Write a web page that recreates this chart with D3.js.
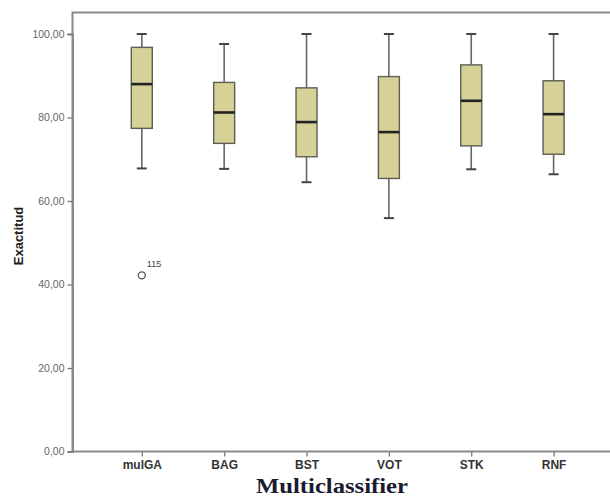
<!DOCTYPE html>
<html><head><meta charset="utf-8">
<script src="https://cdn.jsdelivr.net/npm/d3@7"></script>
<style>body{margin:0;background:#fff}svg{display:block}</style>
</head><body>
<svg id="c" width="610" height="498"></svg>
<script>
const categories = ["mulGA","BAG","BST","VOT","STK","RNF"];
const whiskerLow  = [67.8, 67.7, 64.5, 55.9, 67.6, 66.4];
const q1          = [77.4, 73.8, 70.6, 65.4, 73.2, 71.2];
const median      = [88.0, 81.2, 78.9, 76.5, 84.0, 80.8];
const q3          = [96.8, 88.4, 87.1, 89.8, 92.6, 88.8];
const whiskerHigh = [100, 97.6, 100, 100, 100, 100];
const outliers = [{cat:"mulGA", value:42.2, label:"115"}];
const yTicks = [0,20,40,60,80,100];

const svg = d3.select("#c");
const mLeft=72.5, mTop=12.5, mBottom=451.5, mRight=612;
const y = d3.scaleLinear().domain([0,100]).range([mBottom, 34]);
const x = d3.scalePoint().domain(categories).range([141.8, 553.6]);
const fmt = d => d.toFixed(2).replace(".", ",");

// frame
svg.append("path").attr("d",`M${mLeft},${mBottom}V${mTop}H${mRight}`)
  .attr("fill","none").attr("stroke","#8a8a8a").attr("stroke-width",2);

// y axis
const ya = svg.append("g").attr("transform",`translate(${mLeft},0)`)
  .call(d3.axisLeft(y).tickValues(yTicks).tickFormat(fmt).tickSize(5).tickPadding(3));
ya.select(".domain").attr("stroke","#8a8a8a").attr("stroke-width",2);
ya.selectAll(".tick line").attr("stroke","#777").attr("stroke-width",1.3);
ya.selectAll(".tick text").attr("font-family","Liberation Sans, Arial, sans-serif")
  .attr("font-size",10.5).attr("fill","#666");

// x axis
const xa = svg.append("g").attr("transform",`translate(0,${mBottom})`)
  .call(d3.axisBottom(x).tickSize(5).tickPadding(3.5));
xa.select(".domain").remove();
svg.append("line").attr("x1",mLeft).attr("x2",mRight).attr("y1",mBottom).attr("y2",mBottom)
  .attr("stroke","#8a8a8a").attr("stroke-width",2);
xa.selectAll(".tick line").attr("stroke","#777").attr("stroke-width",1.3);
xa.selectAll(".tick text").attr("font-family","Liberation Sans, Arial, sans-serif")
  .attr("font-weight","bold").attr("font-size",12).attr("fill","#333");

// boxes
const bw = 21, cw = 10;
const g = svg.append("g");
categories.forEach((c,i)=>{
  const cx = x(c);
  g.append("line").attr("x1",cx).attr("x2",cx).attr("y1",y(whiskerHigh[i])).attr("y2",y(q3[i]))
    .attr("stroke","#666").attr("stroke-width",1.6);
  g.append("line").attr("x1",cx).attr("x2",cx).attr("y1",y(q1[i])).attr("y2",y(whiskerLow[i]))
    .attr("stroke","#666").attr("stroke-width",1.6);
  [whiskerHigh[i], whiskerLow[i]].forEach(v=>{
    g.append("line").attr("x1",cx-cw/2).attr("x2",cx+cw/2).attr("y1",y(v)).attr("y2",y(v))
      .attr("stroke","#444").attr("stroke-width",2);
  });
  g.append("rect").attr("x",cx-bw/2).attr("y",y(q3[i])).attr("width",bw)
    .attr("height",y(q1[i])-y(q3[i])).attr("fill","#d5d197").attr("stroke","#5e5e55").attr("stroke-width",1.4);
  g.append("line").attr("x1",cx-bw/2).attr("x2",cx+bw/2).attr("y1",y(median[i])).attr("y2",y(median[i]))
    .attr("stroke","#222").attr("stroke-width",2.6);
});

// outliers
outliers.forEach(o=>{
  g.append("circle").attr("cx",x(o.cat)).attr("cy",y(o.value)).attr("r",3.5)
    .attr("fill","none").attr("stroke","#555").attr("stroke-width",1.3);
  g.append("text").attr("x",x(o.cat)+5).attr("y",y(o.value)-8).text(o.label)
    .attr("font-family","Liberation Sans, Arial, sans-serif").attr("font-size",9).attr("fill","#444");
});

// axis titles
svg.append("text").attr("transform",`translate(23,236) rotate(-90)`).attr("text-anchor","middle")
  .attr("font-family","Liberation Sans, Arial, sans-serif").attr("font-weight","bold").attr("font-size",13)
  .attr("fill","#222").text("Exactitud");
svg.append("text").attr("x",332).attr("y",493.3).attr("text-anchor","middle")
  .attr("font-family","Liberation Serif, Times New Roman, serif").attr("font-weight","bold").attr("font-size",22)
  .attr("textLength",152).attr("lengthAdjust","spacingAndGlyphs")
  .attr("fill","#1a1a30").text("Multiclassifier");
</script>
</body></html>
